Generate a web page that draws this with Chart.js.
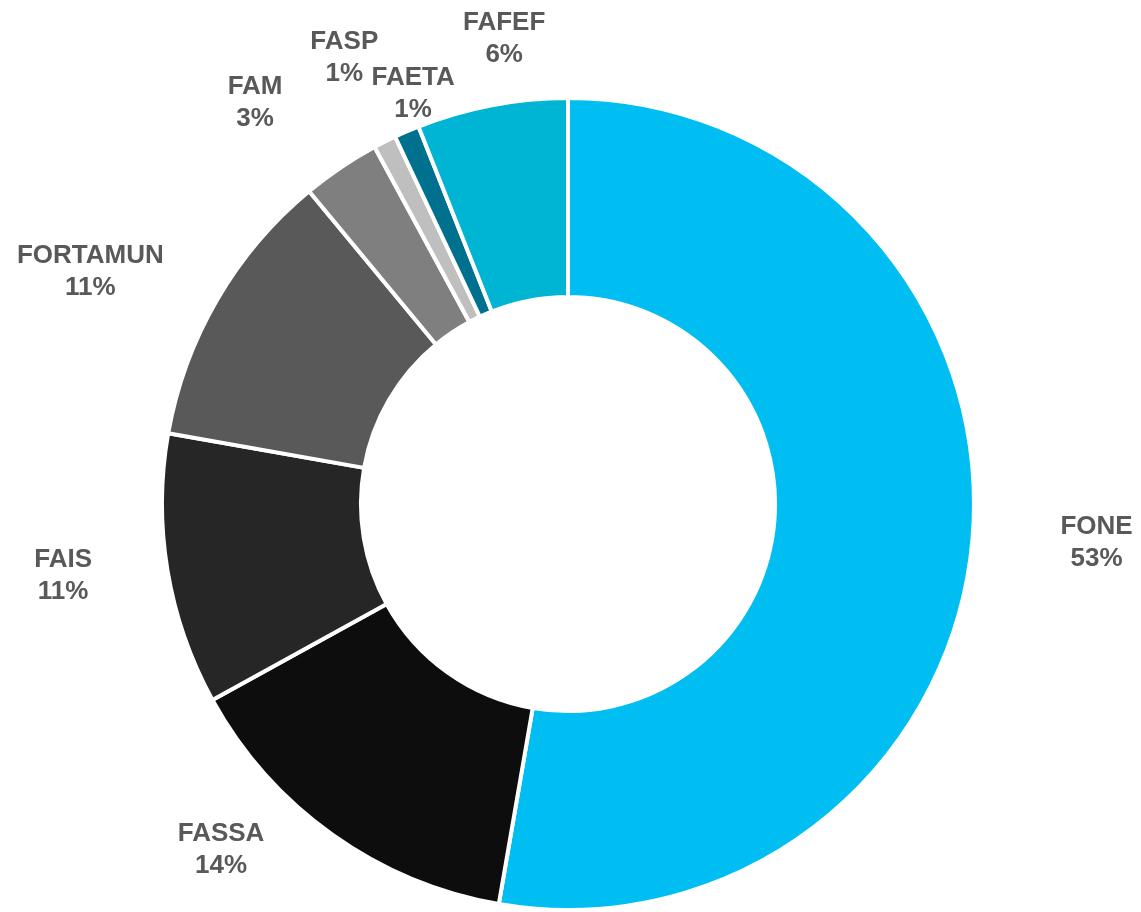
<!DOCTYPE html>
<html>
<head>
<meta charset="utf-8">
<script src="https://cdn.jsdelivr.net/npm/chart.js@4/dist/chart.umd.min.js"></script>
<style>
  html, body { margin: 0; padding: 0; background: #fff; }
  #wrap { width: 1141px; height: 912px; }
</style>
</head>
<body>
<div id="wrap"><canvas id="chart-funds"></canvas></div>
<script>
// fund shares, read clockwise from 12 o'clock
const categories = ['FONE', 'FASSA', 'FAIS', 'FORTAMUN', 'FAM', 'FASP', 'FAETA', 'FAFEF'];
const shares = [52.7, 14.25, 10.8, 11.2, 3.1, 0.9, 1.0, 6.0];
const sliceColors = ['#00BEF2', '#0D0D0D', '#262626', '#595959', '#7F7F7F', '#BFBFBF', '#00708F', '#00B4D4'];

// label placement tweaks (degrees off the slice middle, px beyond the outer edge)
const labelTurn = [-0.7, 9.6, 1.3, -4.3, -3.9, 0.2, 2.7, 3.0];
const labelGap = [124, 84, 104, 125, 103, 93, 32, 64];

const total = shares.reduce((a, b) => a + b, 0);

const outsideLabels = {
    id: 'outsideLabels',
    afterDatasetsDraw(chart) {
        const ctx = chart.ctx;
        const meta = chart.getDatasetMeta(0);
        ctx.save();
        ctx.fillStyle = '#595959';
        ctx.font = 'bold 26px "Liberation Sans", Arial, sans-serif';
        ctx.textAlign = 'center';
        ctx.textBaseline = 'middle';
        meta.data.forEach((arc, i) => {
            const p = arc.getProps(['x', 'y', 'startAngle', 'endAngle', 'outerRadius'], true);
            const mid = (p.startAngle + p.endAngle) / 2 + labelTurn[i] * Math.PI / 180;
            const r = p.outerRadius + labelGap[i];
            const cx = p.x + Math.cos(mid) * r;
            const cy = p.y + Math.sin(mid) * r;
            const pct = Math.round(shares[i] / total * 100) + '%';
            ctx.fillText(categories[i], cx, cy - 16);
            ctx.fillText(pct, cx, cy + 16);
        });
        ctx.restore();
    }
};

new Chart(document.getElementById('chart-funds').getContext('2d'), {
    type: 'doughnut',
    data: {
        labels: categories,
        datasets: [{
            data: shares,
            backgroundColor: sliceColors,
            borderColor: '#ffffff',
            borderWidth: 4
        }]
    },
    options: {
        responsive: true,
        maintainAspectRatio: false,
        animation: false,
        cutout: '51%',
        layout: { padding: { top: 96, bottom: 0, left: 100, right: 105 } },
        plugins: {
            legend: { display: false },
            tooltip: { enabled: false }
        }
    },
    plugins: [outsideLabels]
});
</script>
</body>
</html>
